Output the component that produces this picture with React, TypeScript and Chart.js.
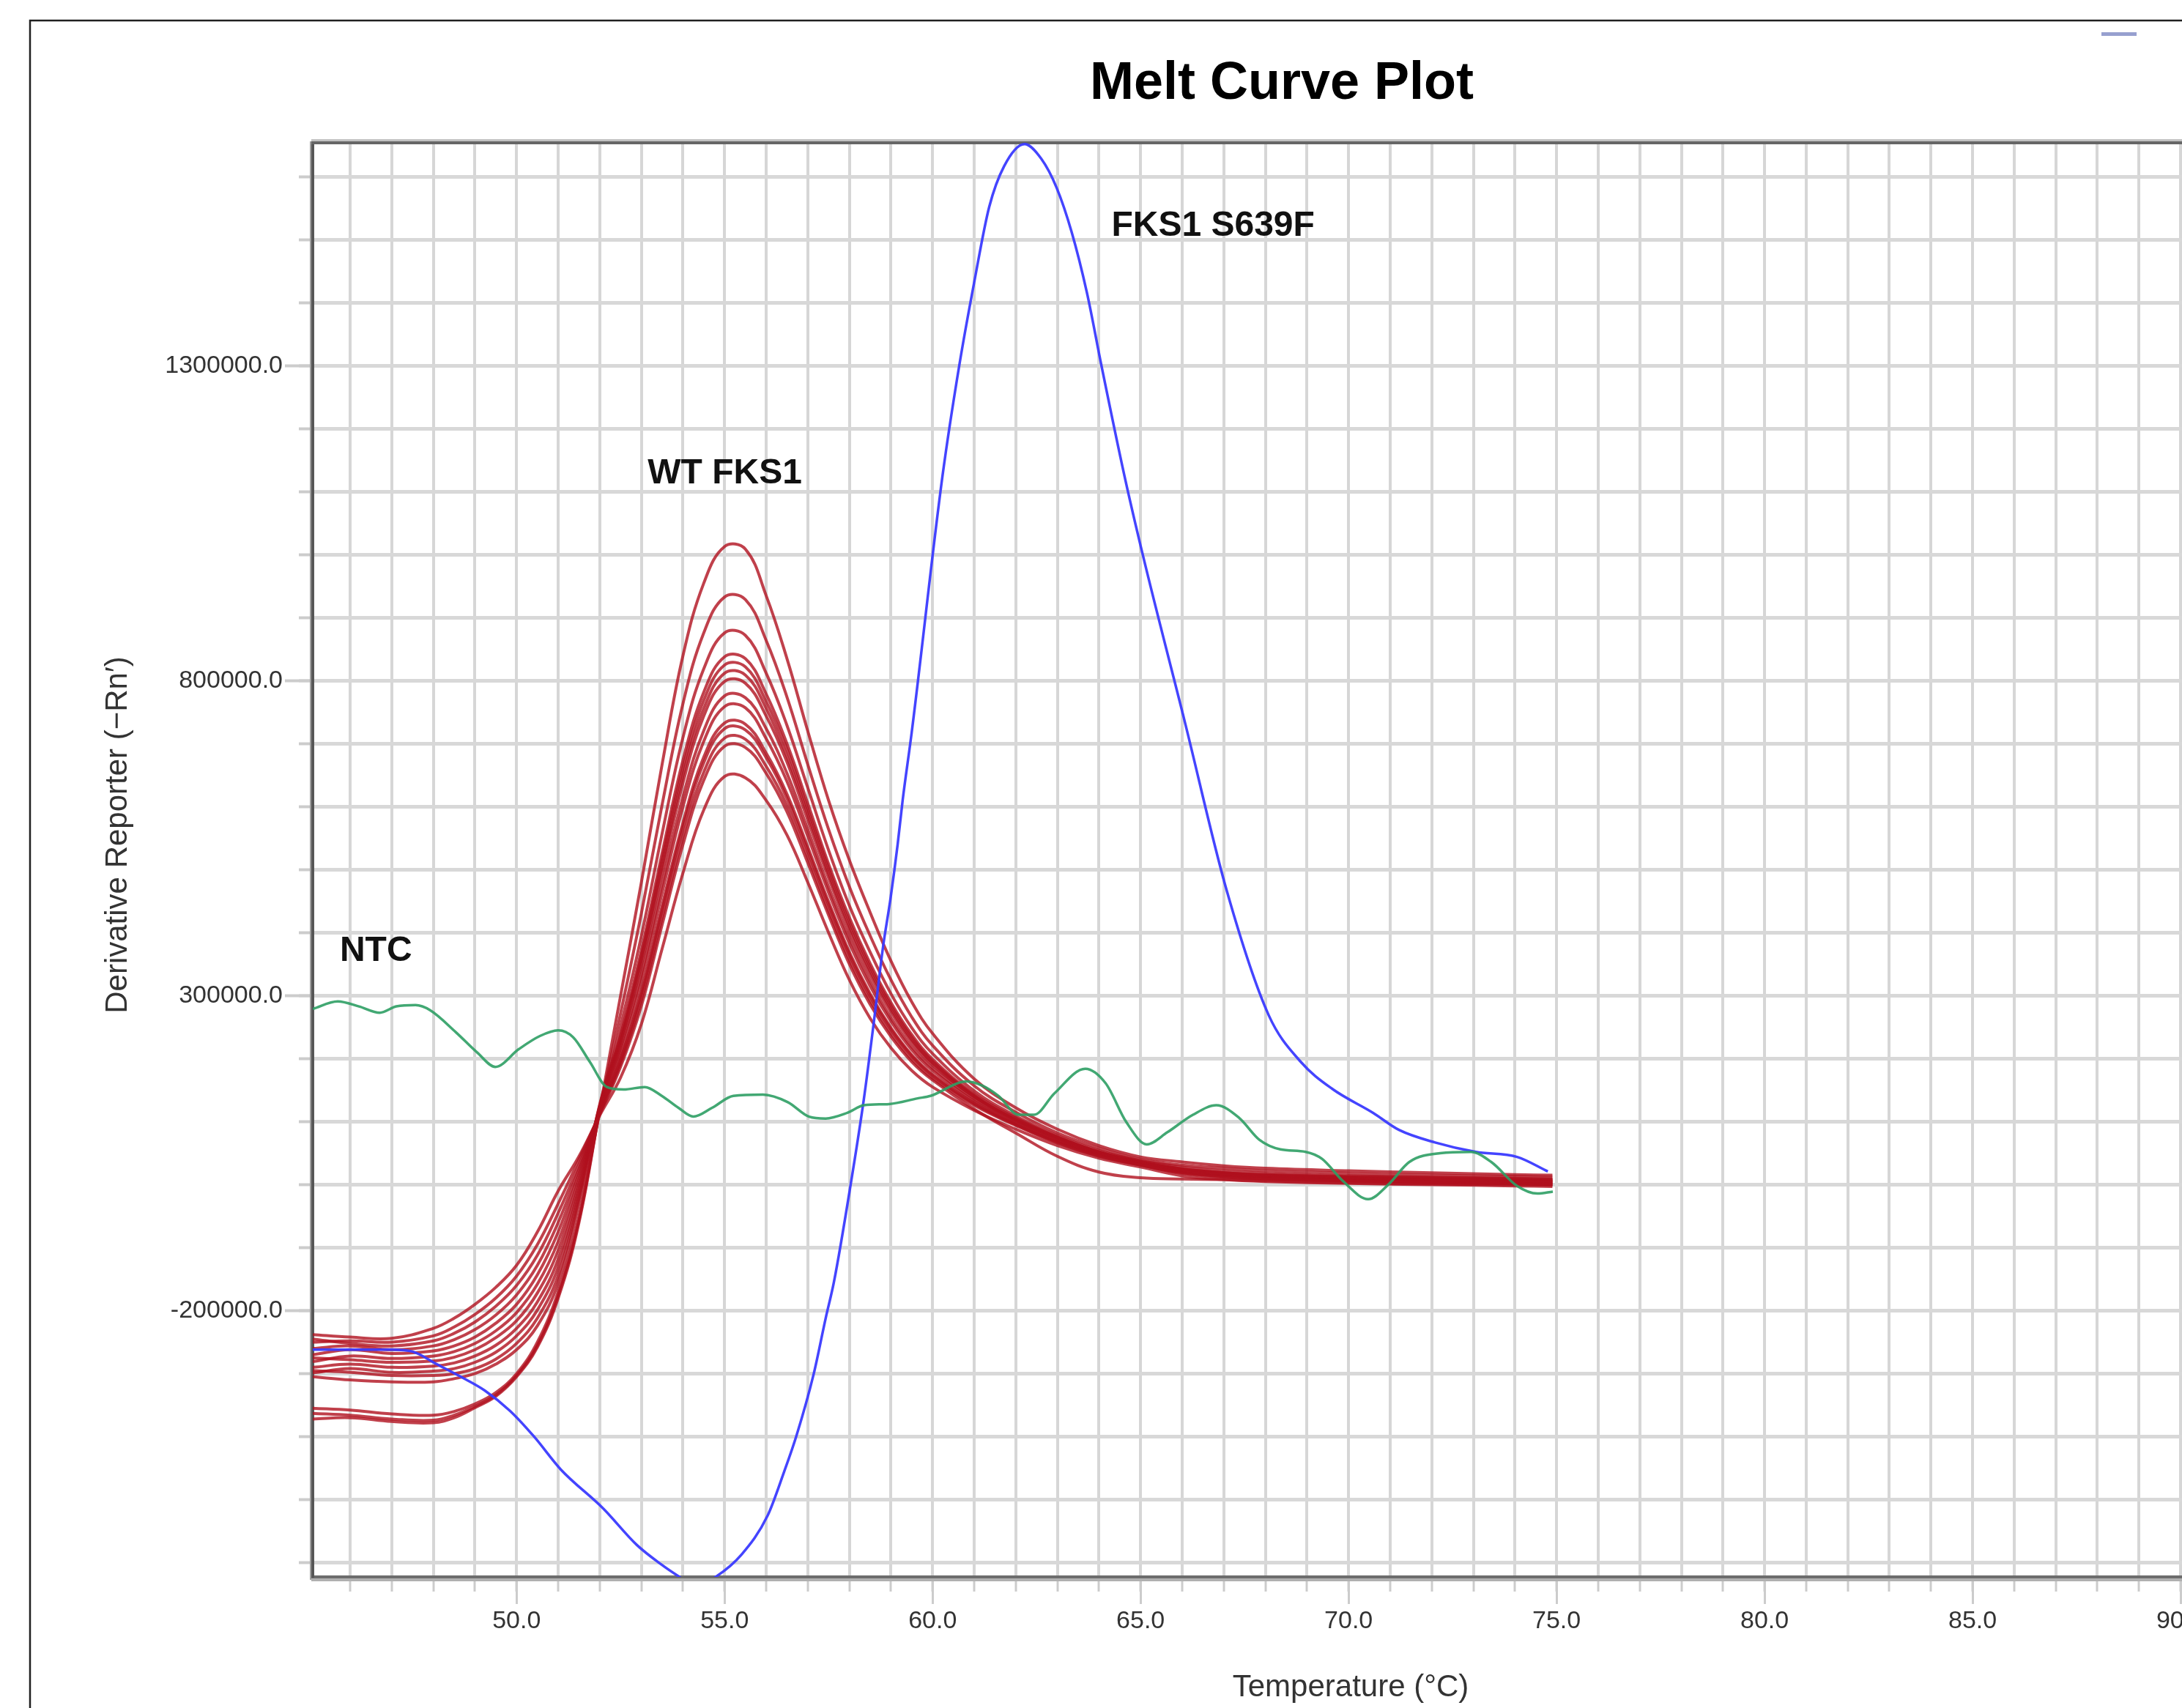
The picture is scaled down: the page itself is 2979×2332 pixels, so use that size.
import React, { useEffect, useRef } from 'react';
import { Chart, registerables } from 'chart.js';

Chart.register(...registerables);

// ---------- DATA (values in thousands of derivative-reporter units) ----------
const RED_TEMPS = [45.1, 46, 47, 48, 48.5, 49, 49.5, 50, 50.5, 51, 51.5, 52, 52.5, 53, 53.5, 54, 54.5, 55, 55.5, 56, 56.5, 57, 57.5, 58, 58.5, 59, 59.5, 60, 61, 62, 63, 64, 65, 66, 67, 68, 70, 72, 74, 74.9];

const WT_01 = [-238, -242, -244, -228, -212, -190, -163, -128, -75, -10, 45, 110, 170, 255, 375, 495, 595, 648, 646, 610, 555, 480, 400, 325, 264, 217, 181, 155, 118, 88, 62, 42, 28, 14, 8, 5, 2, 0, -2, -3];
const WT_02 = [-250, -248, -250, -240, -226, -206, -180, -145, -95, -30, 40, 112, 187, 284, 413, 540, 642, 696, 694, 653, 592, 511, 428, 350, 286, 235, 195, 166, 120, 82, 45, 20, 11, 9, 8, 6, 3, 1, 0, -1];
const WT_03 = [-245, -252, -256, -248, -236, -218, -193, -160, -112, -45, 32, 113, 192, 293, 424, 553, 655, 709, 707, 664, 602, 520, 435, 357, 292, 240, 199, 169, 126, 94, 66, 45, 31, 18, 12, 9, 6, 3, 1, 0];
const WT_04 = [-260, -256, -262, -256, -246, -230, -207, -175, -128, -60, 25, 115, 197, 302, 436, 567, 670, 724, 722, 678, 613, 530, 444, 365, 299, 246, 204, 173, 128, 95, 67, 46, 31, 19, 13, 9, 6, 4, 2, 1];
const WT_05 = [-270, -262, -268, -264, -256, -242, -220, -190, -143, -75, 18, 117, 200, 307, 443, 575, 679, 733, 731, 685, 620, 536, 449, 369, 303, 249, 206, 175, 130, 96, 68, 47, 32, 19, 13, 10, 7, 4, 2, 1];
const WT_06 = [-281, -272, -276, -272, -265, -252, -232, -203, -158, -90, 10, 118, 209, 323, 464, 600, 704, 759, 757, 708, 640, 553, 464, 383, 315, 259, 214, 181, 133, 98, 70, 48, 33, 21, 15, 11, 8, 6, 4, 3];
const WT_07 = [-275, -278, -282, -280, -274, -262, -243, -216, -172, -104, 2, 120, 216, 334, 478, 616, 721, 776, 773, 724, 653, 564, 473, 392, 323, 265, 219, 185, 136, 100, 71, 49, 34, 22, 16, 12, 9, 7, 5, 4];
const WT_08 = [-290, -285, -290, -288, -283, -272, -255, -228, -186, -118, -6, 122, 224, 348, 496, 638, 744, 799, 796, 744, 671, 579, 487, 403, 333, 274, 226, 190, 139, 102, 73, 50, 35, 23, 17, 14, 10, 8, 6, 5];
const WT_09 = [-299, -292, -298, -296, -292, -282, -266, -240, -199, -131, -14, 124, 228, 356, 506, 650, 756, 812, 809, 756, 680, 588, 494, 410, 339, 279, 230, 193, 140, 103, 74, 51, 35, 24, 18, 14, 11, 9, 7, 6];
const WT_10 = [-295, -298, -303, -303, -300, -292, -277, -252, -212, -144, -22, 126, 233, 364, 517, 662, 769, 825, 822, 767, 691, 596, 502, 417, 345, 284, 234, 196, 142, 104, 75, 52, 36, 25, 19, 15, 12, 10, 8, 7];
const WT_11 = [-305, -310, -313, -313, -308, -300, -285, -262, -224, -156, -30, 128, 237, 372, 527, 674, 782, 838, 835, 779, 700, 605, 509, 424, 351, 289, 238, 199, 144, 106, 76, 52, 36, 25, 19, 16, 13, 11, 9, 8];
const WT_12 = [-355, -358, -364, -366, -360, -348, -330, -300, -250, -170, -50, 115, 251, 395, 558, 710, 819, 876, 872, 812, 729, 630, 531, 443, 369, 303, 249, 208, 149, 109, 78, 54, 38, 28, 22, 18, 14, 12, 10, 9];
const WT_13 = [-363, -366, -372, -374, -366, -352, -334, -303, -255, -176, -56, 118, 272, 431, 604, 764, 876, 933, 929, 864, 774, 667, 564, 473, 395, 325, 266, 221, 157, 115, 82, 58, 40, 31, 26, 22, 18, 15, 13, 12];
const WT_14 = [-372, -370, -376, -378, -370, -354, -336, -305, -258, -180, -60, 120, 300, 480, 668, 840, 955, 1013, 1009, 935, 835, 720, 610, 515, 432, 355, 290, 240, 168, 122, 88, 62, 44, 36, 30, 26, 22, 19, 16, 15];

const WT_SERIES = [WT_01, WT_02, WT_03, WT_04, WT_05, WT_06, WT_07, WT_08, WT_09, WT_10, WT_11, WT_12, WT_13, WT_14];

const MUT_TEMPS = [45.1, 46, 47, 47.5, 48.08, 48.66, 49.24, 49.84, 50.42, 51.06, 52.08, 52.89, 53.5, 53.9, 54.3, 54.8, 55.41, 56.03, 56.43, 56.73, 57.14, 57.43, 57.63, 58.03, 58.35, 58.58, 58.81, 58.99, 59.16, 59.28, 59.5, 60.24, 60.64, 61.01, 61.36, 61.72, 62.21, 62.61, 62.98, 63.34, 63.71, 64.06, 64.61, 65.06, 66.07, 67.07, 68.08, 68.85, 69.61, 70.59, 71.21, 72.08, 73.06, 74.05, 74.79];
const MUT_VALUES = [-262, -262, -262, -265, -285, -305, -327, -359, -400, -452, -514, -572, -604, -622, -638, -622, -587, -526, -456, -398, -301, -212, -154, 0, 137, 254, 378, 455, 540, 610, 719, 1126, 1300, 1436, 1552, 1617, 1652, 1629, 1583, 1513, 1416, 1300, 1126, 998, 733, 467, 269, 195, 152, 114, 87, 67, 52, 44, 21];

const NTC_TEMPS = [45.1, 45.7, 46.21, 46.71, 47.11, 47.57, 47.92, 48.54, 49.05, 49.49, 50.05, 50.56, 51.0, 51.36, 51.76, 52.17, 52.57, 53.08, 53.49, 53.89, 54.25, 54.7, 55.21, 55.92, 56.52, 57.03, 57.43, 57.95, 58.35, 58.95, 59.64, 59.95, 60.82, 61.2, 61.58, 62.07, 62.44, 62.93, 63.67, 64.16, 64.66, 65.15, 65.64, 66.26, 66.82, 67.37, 67.86, 68.36, 68.97, 69.36, 69.86, 70.47, 70.97, 71.46, 72.2, 72.94, 73.43, 74.05, 74.54, 74.91];
const NTC_VALUES = [279, 291, 283, 273, 283, 285, 277, 242, 210, 187, 215, 236, 245, 234, 195, 155, 151, 155, 141, 122, 108, 122, 141, 143, 131, 108, 105, 114, 126, 128, 137, 141, 164, 157, 141, 111, 111, 145, 184, 161, 99, 64, 83, 111, 126, 106, 71, 56, 52, 41, 6, -23, 1, 36, 50, 52, 36, -2, -14, -11];

const X_MAJOR_TICKS = [50, 55, 60, 65, 70, 75, 80, 85, 90, 95];
const X_MINOR_TICKS = [46, 47, 48, 49, 50, 51, 52, 53, 54, 55, 56, 57, 58, 59, 60, 61, 62, 63, 64, 65, 66, 67, 68, 69, 70, 71, 72, 73, 74, 75, 76, 77, 78, 79, 80, 81, 82, 83, 84, 85, 86, 87, 88, 89, 90, 91, 92, 93, 94, 95];
const Y_MAJOR_TICKS = [-200000, 300000, 800000, 1300000];
const Y_MINOR_TICKS = [-600000, -500000, -400000, -300000, -200000, -100000, 0, 100000, 200000, 300000, 400000, 500000, 600000, 700000, 800000, 900000, 1000000, 1100000, 1200000, 1300000, 1400000, 1500000, 1600000];

const LABELS = [
  { text: 'FKS1 S639F', t: 64.3, v: 1506000 },
  { text: 'WT FKS1', t: 53.15, v: 1113000 },
  { text: 'NTC', t: 45.75, v: 355000 },
];

const TITLE = 'Melt Curve Plot';
const Y_TITLE = 'Derivative Reporter (\u2212Rn\u2032)';
const X_TITLE = 'Temperature (°C)';

const X_MIN = 45.1;
const X_MAX = 95.0;
const Y_MIN = -622700;
const Y_MAX = 1654000;
const UNIT = 1000;

const FONT = 'Liberation Sans';

const toPoints = (xs: number[], ys: number[]) => xs.map((x, i) => ({ x, y: ys[i] * UNIT }));

const decorPlugin = {
  id: 'decor',
  beforeDraw(chart: any) {
    const ctx = chart.ctx as CanvasRenderingContext2D;
    ctx.save();
    ctx.fillStyle = '#ffffff';
    ctx.fillRect(0, 0, chart.width, chart.height);
    // outer window frame
    ctx.strokeStyle = '#202020';
    ctx.lineWidth = 2.5;
    ctx.beginPath();
    ctx.moveTo(41, chart.height + 5);
    ctx.lineTo(41, 28);
    ctx.lineTo(chart.width + 5, 28);
    ctx.stroke();
    // small legend dash at top right
    ctx.fillStyle = '#97a0cf';
    ctx.fillRect(2869, 44, 48, 5);
    // main title
    ctx.fillStyle = '#000000';
    ctx.font = `bold 72px "${FONT}"`;
    ctx.textAlign = 'center';
    ctx.textBaseline = 'alphabetic';
    ctx.fillText(TITLE, 1750, 135);
    // y axis title
    ctx.save();
    ctx.translate(161, 1140);
    ctx.rotate(-Math.PI / 2);
    ctx.fillStyle = '#333333';
    ctx.font = `42px "${FONT}"`;
    ctx.textAlign = 'center';
    ctx.textBaseline = 'middle';
    ctx.fillText(Y_TITLE, 0, 0);
    ctx.restore();
    ctx.restore();
  },
  beforeDatasetsDraw(chart: any) {
    const ctx = chart.ctx as CanvasRenderingContext2D;
    const a = chart.chartArea;
    ctx.save();
    ctx.fillStyle = '#c2c2c2';
    ctx.fillRect(a.left - 2, a.top - 5, a.right - a.left + 4, 3);
    ctx.fillStyle = '#666666';
    ctx.fillRect(a.left - 2, a.top - 2, a.right - a.left + 4, 4);
    ctx.fillStyle = '#b0b0b0';
    ctx.fillRect(a.left - 2, a.bottom + 2, a.right - a.left + 4, 4);
    ctx.fillStyle = '#a0a0a0';
    ctx.fillRect(a.left - 4, a.top - 2, 2, a.bottom - a.top + 6);
    ctx.restore();
  },
  afterDatasetsDraw(chart: any) {
    const ctx = chart.ctx as CanvasRenderingContext2D;
    const xs = chart.scales.x;
    const ys = chart.scales.y;
    ctx.save();
    ctx.fillStyle = '#111111';
    ctx.font = `bold 48px "${FONT}"`;
    ctx.textAlign = 'left';
    ctx.textBaseline = 'alphabetic';
    LABELS.forEach((l) => {
      ctx.fillText(l.text, xs.getPixelForValue(l.t), ys.getPixelForValue(l.v));
    });
    ctx.restore();
  },
};

export default function App() {
  const ref = useRef<HTMLCanvasElement>(null);

  useEffect(() => {
    const canvas = ref.current;
    if (!canvas) return;

    const redSets = WT_SERIES.map((vals, i) => ({
      label: `WT FKS1 ${i + 1}`,
      data: toPoints(RED_TEMPS, vals),
      borderColor: 'rgba(176,16,30,0.8)',
      borderWidth: 4,
      pointRadius: 0,
      fill: false,
      tension: 0.4,
    }));

    const chart = new Chart(canvas, {
      type: 'line',
      data: {
        datasets: [
          {
            label: 'NTC',
            data: toPoints(NTC_TEMPS, NTC_VALUES),
            borderColor: 'rgba(46,158,100,0.9)',
            borderWidth: 3.5,
            pointRadius: 0,
            fill: false,
            cubicInterpolationMode: 'monotone',
          },
          {
            label: 'FKS1 S639F',
            data: toPoints(MUT_TEMPS, MUT_VALUES),
            borderColor: 'rgba(58,58,255,0.95)',
            borderWidth: 3.5,
            pointRadius: 0,
            fill: false,
            cubicInterpolationMode: 'monotone',
          },
          ...redSets,
        ] as any,
      },
      options: {
        animation: false,
        responsive: false,
        devicePixelRatio: 1,
        events: [],
        layout: { padding: { left: 0, right: 239, top: 195, bottom: 0 } },
        plugins: {
          legend: { display: false },
          tooltip: { enabled: false },
          title: { display: false },
        },
        scales: {
          xMinor: {
            type: 'linear',
            position: 'bottom',
            weight: 0,
            min: X_MIN,
            max: X_MAX,
            afterBuildTicks: (s: any) => {
              s.ticks = X_MINOR_TICKS.map((v) => ({ value: v }));
            },
            afterFit: (s: any) => {
              s.height = 0;
            },
            grid: {
              display: true,
              drawOnChartArea: true,
              color: '#d6d6d6',
              lineWidth: 4,
              drawTicks: true,
              tickLength: 20,
              tickColor: '#cccccc',
              tickWidth: 3,
            },
            border: { display: false },
            ticks: { display: false },
          },
          x: {
            type: 'linear',
            position: 'bottom',
            weight: 1,
            min: X_MIN,
            max: X_MAX,
            afterBuildTicks: (s: any) => {
              s.ticks = X_MAJOR_TICKS.map((v) => ({ value: v }));
            },
            afterFit: (s: any) => {
              s.height = 179;
            },
            grid: {
              display: true,
              drawOnChartArea: false,
              drawTicks: true,
              tickLength: 37,
              tickColor: '#cccccc',
              tickWidth: 3,
            },
            border: { display: true, color: '#6c6c6c', width: 4 },
            ticks: {
              padding: 3,
              color: '#333333',
              font: { family: FONT, size: 34 },
              maxRotation: 0,
              autoSkip: false,
              callback: (v: any) => Number(v).toFixed(1),
            },
            title: {
              display: true,
              text: X_TITLE,
              color: '#333333',
              font: { family: FONT, size: 42 },
              padding: { top: 0, bottom: 2 },
            },
          },
          yMinor: {
            type: 'linear',
            position: 'left',
            weight: 0,
            min: Y_MIN,
            max: Y_MAX,
            afterBuildTicks: (s: any) => {
              s.ticks = Y_MINOR_TICKS.map((v) => ({ value: v }));
            },
            afterFit: (s: any) => {
              s.width = 0;
            },
            grid: {
              display: true,
              drawOnChartArea: true,
              color: '#d8d8d8',
              lineWidth: 5,
              drawTicks: true,
              tickLength: 19,
              tickColor: '#cccccc',
              tickWidth: 4,
            },
            border: { display: false },
            ticks: { display: false },
          },
          y: {
            type: 'linear',
            position: 'left',
            weight: 1,
            min: Y_MIN,
            max: Y_MAX,
            afterBuildTicks: (s: any) => {
              s.ticks = Y_MAJOR_TICKS.map((v) => ({ value: v }));
            },
            afterFit: (s: any) => {
              s.width = 427;
            },
            grid: {
              display: true,
              drawOnChartArea: false,
              drawTicks: true,
              tickLength: 38,
              tickColor: '#cccccc',
              tickWidth: 4,
            },
            border: { display: true, color: '#575757', width: 4 },
            ticks: {
              padding: 3,
              color: '#333333',
              font: { family: FONT, size: 34 },
              autoSkip: false,
              callback: (v: any) => Number(v).toFixed(1),
            },
            title: { display: false },
          },
        },
      } as any,
      plugins: [decorPlugin],
    });

    return () => chart.destroy();
  }, []);

  return (
    <div style={{ position: 'fixed', left: 0, top: 0, width: 3500, height: 2332, background: '#ffffff' }}>
      <canvas ref={ref} width={3500} height={2332} style={{ display: 'block', width: 3500, height: 2332 }} />
    </div>
  );
}
